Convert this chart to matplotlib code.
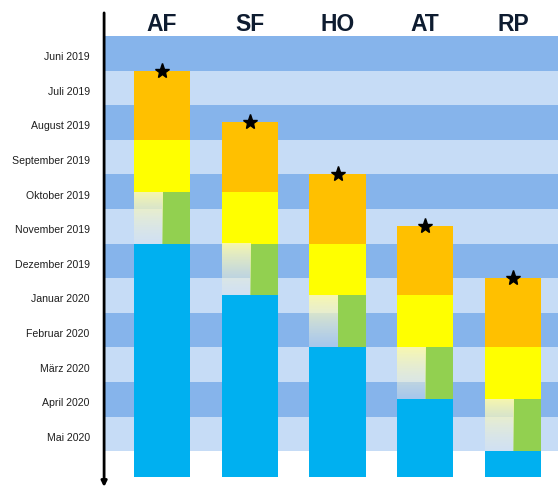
import numpy as np
import matplotlib
matplotlib.use("Agg")
import matplotlib.pyplot as plt
from matplotlib.transforms import ScaledTranslation

plt.rcParams['font.family'] = ['Liberation Sans', 'DejaVu Sans']

# Month rows (top to bottom)
months = ["Juni 2019", "Juli 2019", "August 2019", "September 2019",
          "Oktober 2019", "November 2019", "Dezember 2019", "Januar 2020",
          "Februar 2020", "März 2020", "April 2020", "Mai 2020"]

# Phases per group, in months counted from the start of June 2019
groups = ["AF", "SF", "HO", "AT", "RP"]
start = [1.0, 2.5, 4.0, 5.5, 7.0]
orange_len = [2.0, 2.0, 2.0, 2.0, 2.0]
yellow_len = [1.5, 1.5, 1.5, 1.5, 1.5]
green_len = [1.5, 1.5, 1.5, 1.5, 1.5]
end = [12.75, 12.75, 12.75, 12.75, 12.75]

c_dark = "#86b4eb"
c_light = "#c6dcf6"
c_orange = "#ffc000"
c_yellow = "#ffff00"
c_green = "#92d050"
c_blue = "#00b0f0"

fig = plt.figure(figsize=(5.58, 4.89), dpi=100)
ax = fig.add_axes([105 / 558, 1 / 489, 453 / 558, 476 / 489])

# Alternating month bands
for i in range(len(months)):
    ax.axhspan(i, i + 1, xmin=0, xmax=1,
               color=c_dark if i % 2 == 0 else c_light, lw=0, zorder=0)

x = np.arange(len(groups))
w = 0.64

# Gradient for the left half of the transition phase
n = 120
t = np.linspace(0, 1, n)[:, None]
top_rgb = np.array([250, 249, 172]) / 255
bot_rgb = np.array([228, 234, 238]) / 255
rgb = top_rgb * (1 - t) + bot_rgb * t
alpha = 0.97 - 0.62 * t
grad = np.hstack([rgb, alpha]).reshape(n, 1, 4)

for xi, name, s, lo, ly, lg, e in zip(x, groups, start, orange_len,
                                      yellow_len, green_len, end):
    y_o = s
    y_y = y_o + lo
    y_g = y_y + ly
    y_b = y_g + lg
    ax.bar(xi, lo, bottom=y_o, width=w, color=c_orange, lw=0, zorder=2)
    ax.bar(xi, ly, bottom=y_y, width=w, color=c_yellow, lw=0, zorder=2)
    ax.bar(xi + w / 4, lg, bottom=y_g, width=w / 2, color=c_green, lw=0, zorder=2)
    ax.imshow(grad, extent=(xi - w / 2, xi, y_b, y_g), origin='upper',
              aspect='auto', interpolation='bilinear', zorder=2)
    ax.bar(xi, e - y_b, bottom=y_b, width=w, color=c_blue, lw=0, zorder=2)
    ax.plot(xi, s, marker='*', markersize=11, color='black', zorder=4, clip_on=False)
    ax.text(xi, -0.17, name, ha='center', va='baseline',
            fontsize=16.5, fontweight='bold', color='#0e1c30')

ax.set_xlim(-0.65, 4.513)
ax.set_ylim(13.035, -0.7225)

ax.set_yticks(np.arange(len(months)) + 0.5)
ax.set_yticklabels(months, fontsize=7.6, color='#1e1e1e')
ax.tick_params(axis='y', length=0, pad=11)
shift = ScaledTranslation(0, -2 / 100, fig.dpi_scale_trans)
for lab in ax.get_yticklabels():
    lab.set_transform(lab.get_transform() + shift)
ax.set_xticks([])
for sp in ax.spines.values():
    sp.set_visible(False)

# Vertical time axis with arrow pointing down
ax.annotate('', xy=(-0.002, 0.0), xytext=(-0.002, 0.996),
            xycoords='axes fraction', textcoords='axes fraction',
            arrowprops=dict(arrowstyle='-|>', lw=2, color='black',
                            mutation_scale=8, shrinkA=0, shrinkB=0),
            annotation_clip=False)

fig.savefig("out.png", dpi=100)
